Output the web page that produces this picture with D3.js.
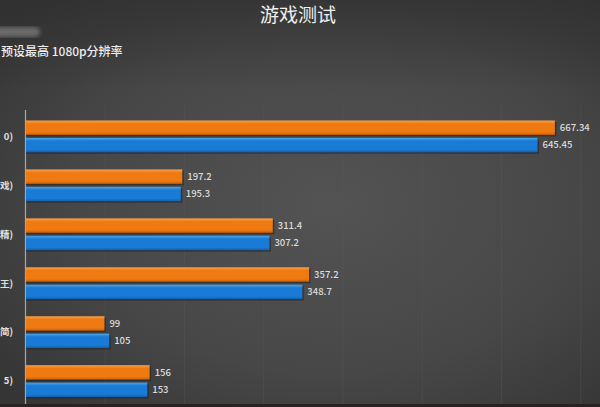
<!DOCTYPE html>
<html>
<head>
<meta charset="utf-8">
<script src="https://cdn.jsdelivr.net/npm/d3@7/dist/d3.min.js"></script>
<style>
  html, body { margin: 0; padding: 0; background: #3a3a3a; overflow: hidden; }
  svg { display: block; }
  text { font-family: "Noto Sans CJK SC", "Noto Sans", sans-serif; }
</style>
</head>
<body>
<script>
// ---- data ----
const categories = ["0)", "戏)", "精)", "王)", "简)", "5)"];
const seriesNames = ["orange", "blue"];
const orangeValues = [667.34, 197.2, 311.4, 357.2, 99, 156];
const blueValues = [645.45, 195.3, 307.2, 348.7, 105, 153];
const orangeLabels = ["667.34", "197.2", "311.4", "357.2", "99", "156"];
const blueLabels = ["645.45", "195.3", "307.2", "348.7", "105", "153"];
const gridTicks = [100, 200, 300, 400, 500, 600, 700];
const titleText = "游戏测试";
const subtitleText = "预设最高 1080p分辨率";

const W = 600, H = 407;
const svg = d3.select("body").append("svg").attr("width", W).attr("height", H);
const defs = svg.append("defs");

// background gradient
const bg = defs.append("radialGradient").attr("id", "bg")
  .attr("cx", "55%").attr("cy", "50%").attr("r", "70%");
bg.append("stop").attr("offset", "0%").attr("stop-color", "#535353");
bg.append("stop").attr("offset", "60%").attr("stop-color", "#474747");
bg.append("stop").attr("offset", "100%").attr("stop-color", "#353535");
svg.append("rect").attr("width", W).attr("height", H).attr("fill", "url(#bg)");
const tg = defs.append("linearGradient").attr("id", "topg").attr("x1", 0).attr("y1", 0).attr("x2", 0).attr("y2", 1);
tg.append("stop").attr("offset", "0%").attr("stop-color", "#2e2e2e").attr("stop-opacity", 0.6);
tg.append("stop").attr("offset", "100%").attr("stop-color", "#2e2e2e").attr("stop-opacity", 0);
svg.append("rect").attr("width", W).attr("height", 90).attr("fill", "url(#topg)");
svg.append("rect").attr("x", 0).attr("y", 404).attr("width", W).attr("height", 3).attr("fill", "#2a2222");

// bar gradients
function barGrad(id, top, mid, bot) {
  const g = defs.append("linearGradient").attr("id", id).attr("x1", 0).attr("y1", 0).attr("x2", 0).attr("y2", 1);
  g.append("stop").attr("offset", "0%").attr("stop-color", top);
  g.append("stop").attr("offset", "22%").attr("stop-color", mid);
  g.append("stop").attr("offset", "80%").attr("stop-color", mid);
  g.append("stop").attr("offset", "100%").attr("stop-color", bot);
}
barGrad("g-orange", "#f9a24a", "#f07a12", "#c85e08");
barGrad("g-blue", "#4aa6ec", "#1a7bd6", "#1060ad");
const fills = { orange: "url(#g-orange)", blue: "url(#g-blue)" };

// scales
const x0 = 26;
const x = d3.scaleLinear().domain([0, 700]).range([x0, x0 + 700 * 0.7925]);
const y = d3.scaleBand().domain(categories).range([120.5, 397]).paddingInner(0.35).paddingOuter(0);
const ySub = d3.scaleBand().domain(seriesNames).range([0, y.bandwidth()]).paddingInner(0.17);

// faint gridlines
svg.append("g").selectAll("line").data(gridTicks).join("line")
  .attr("x1", d => x(d)).attr("x2", d => x(d))
  .attr("y1", 105).attr("y2", 404)
  .attr("stroke", "#5a5a5a").attr("stroke-width", 1).attr("opacity", 0.35);

// axis line
svg.append("line").attr("x1", 25.5).attr("x2", 25.5).attr("y1", 110).attr("y2", 404)
  .attr("stroke", "#a8a8a8").attr("stroke-width", 1.2);

const rows = categories.map((c, i) => ({
  cat: c,
  vals: [
    { s: "orange", v: orangeValues[i], label: orangeLabels[i] },
    { s: "blue", v: blueValues[i], label: blueLabels[i] }
  ]
}));

const grp = svg.append("g").selectAll("g").data(rows).join("g")
  .attr("transform", d => `translate(0,${y(d.cat)})`);

grp.selectAll("rect.shadow").data(d => d.vals).join("rect").attr("class", "shadow")
  .attr("x", x(0)).attr("y", d => ySub(d.s) + 1.5)
  .attr("width", d => x(d.v) - x(0) + 1.5).attr("height", ySub.bandwidth())
  .attr("fill", "#222").attr("opacity", 0.55);

grp.selectAll("rect.bar").data(d => d.vals).join("rect").attr("class", "bar")
  .attr("x", x(0)).attr("y", d => ySub(d.s))
  .attr("width", d => x(d.v) - x(0)).attr("height", ySub.bandwidth())
  .attr("fill", d => fills[d.s]);

grp.selectAll("text.val").data(d => d.vals).join("text").attr("class", "val")
  .attr("x", d => x(d.v) + 5).attr("y", d => ySub(d.s) + ySub.bandwidth() / 2)
  .attr("dy", "0.35em")
  .attr("font-size", 9.5).attr("font-weight", 500).attr("fill", "#dcdcdc")
  .text(d => d.label);

// category labels (cut at the left edge)
svg.append("g").selectAll("text").data(categories).join("text")
  .attr("x", 13).attr("y", d => y(d) + y.bandwidth() / 2)
  .attr("dy", "0.35em").attr("text-anchor", "end")
  .attr("font-size", 9.5).attr("font-weight", "bold").attr("fill", "#e0e0e0")
  .text(d => d);

// title
svg.append("text").attr("x", 298).attr("y", 15).attr("dy", "0.35em")
  .attr("text-anchor", "middle").attr("font-size", 19).attr("fill", "#f0f0f0")
  .text(titleText);

// blurred obscured block
const blur = defs.append("filter").attr("id", "blur");
blur.append("feGaussianBlur").attr("stdDeviation", 2);
svg.append("rect").attr("x", -10).attr("y", 27).attr("width", 50).attr("height", 10).attr("rx", 5)
  .attr("fill", "#6a6a6a").attr("filter", "url(#blur)");

// subtitle
svg.append("text").attr("x", 1).attr("y", 52).attr("dy", "0.35em")
  .attr("font-size", 12).attr("font-weight", 500).attr("fill", "#eeeeee")
  .text(subtitleText);
</script>
</body>
</html>
